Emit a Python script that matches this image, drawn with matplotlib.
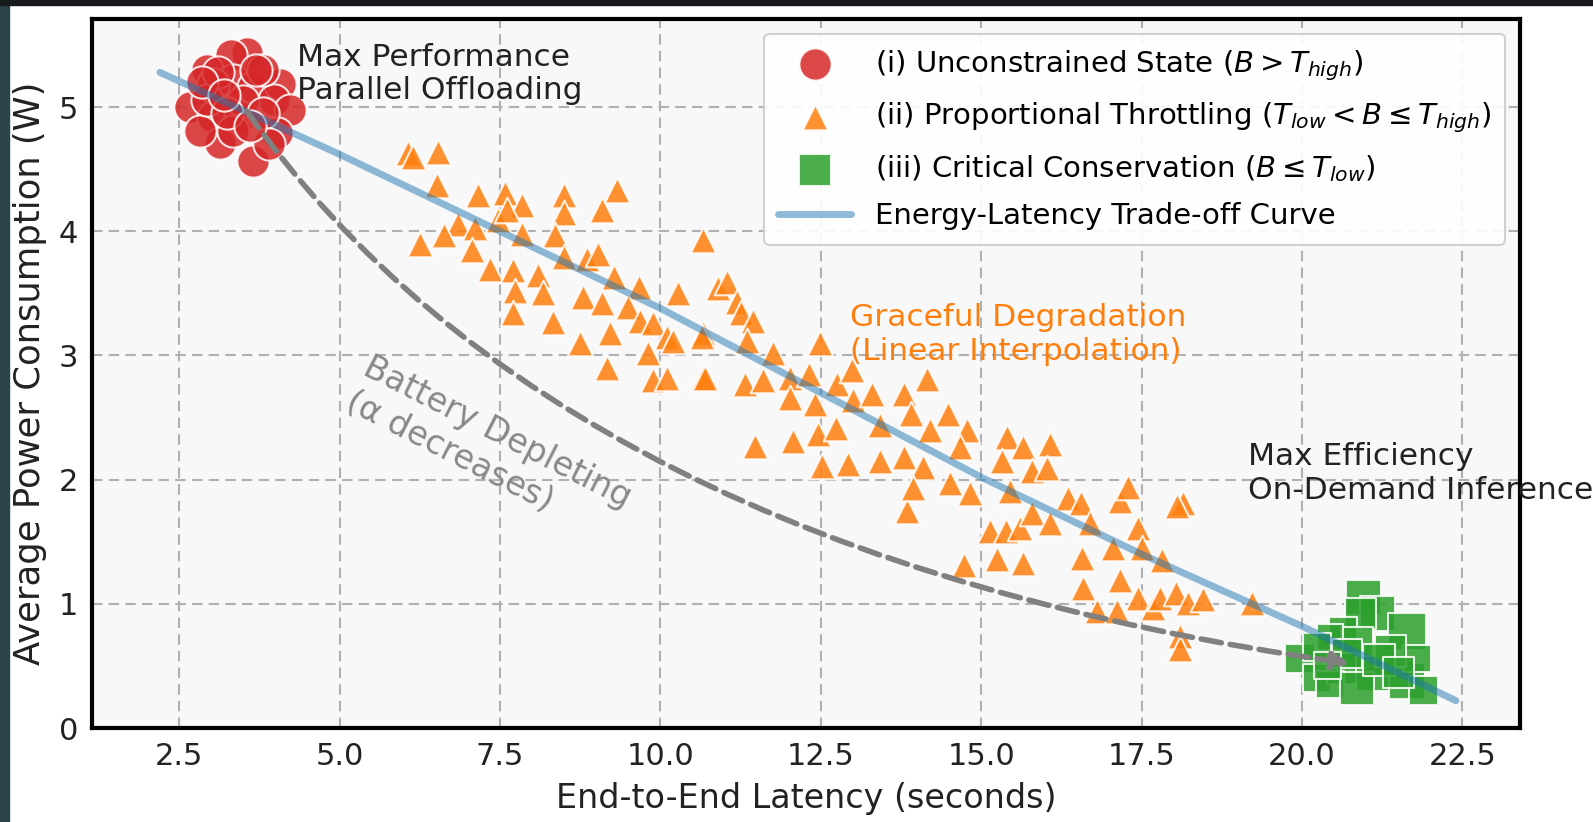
import matplotlib
matplotlib.use("Agg")
import matplotlib.pyplot as plt
from matplotlib.patches import Rectangle

plt.rcParams['font.family'] = ['DejaVu Sans']
plt.rcParams['mathtext.fontset'] = 'dejavusans'

# ---------------- data ----------------
red_x = [3.56, 3.30, 2.94, 3.34, 3.65, 4.07, 3.03, 2.67, 3.03, 3.45, 3.97, 4.23,
         4.03, 3.14, 3.65, 3.34, 2.83, 3.81, 2.94, 3.10, 3.50, 3.80, 3.90, 2.85,
         3.25, 3.60, 3.20, 3.70]
red_y = [5.44, 5.42, 5.30, 5.22, 5.16, 5.19, 5.19, 5.00, 4.92, 4.92, 5.06, 4.98,
         4.79, 4.71, 4.57, 4.81, 4.81, 5.30, 5.06, 5.28, 5.05, 4.95, 4.70, 5.20,
         4.95, 4.85, 5.10, 5.30]

orange_x = [6.07, 6.15, 6.54, 6.52, 7.15, 7.58, 7.85, 8.49, 8.50, 9.33, 9.09, 6.85,
            7.11, 7.47, 7.61, 6.26, 6.62, 7.07, 7.35, 7.85, 7.71, 7.74, 7.71, 8.10,
            8.17, 8.33, 8.36, 8.49, 8.86, 9.03, 8.80, 9.09, 9.27, 9.66, 9.50, 8.75,
            9.22, 9.69, 9.89, 10.11, 9.80, 9.17, 9.89, 10.11, 10.28, 10.67, 10.20, 10.67,
            10.67, 10.90, 11.04, 11.20, 11.25, 11.45, 10.65, 10.70, 11.35, 11.76, 12.49, 11.32,
            11.60, 12.02, 12.02, 12.31, 12.41, 12.76, 12.99, 13.00, 11.48, 12.06, 12.45, 12.73,
            12.52, 12.93, 13.30, 13.43, 13.43, 13.79, 13.90, 14.16, 13.79, 14.10, 14.21, 14.49,
            14.78, 14.67, 14.52, 14.83, 13.85, 13.94, 15.41, 15.33, 15.14, 15.38, 15.66, 15.80,
            16.08, 16.03, 15.45, 15.61, 15.25, 15.66, 15.80, 16.08, 16.36, 16.55, 16.70, 16.58,
            16.59, 16.81, 17.12, 17.06, 17.17, 17.17, 17.29, 17.45, 17.51, 17.45, 17.68, 17.82,
            17.79, 18.03, 18.23, 18.15, 18.06, 18.46, 18.10, 18.10, 19.23, 14.74]
orange_y = [4.63, 4.60, 4.64, 4.37, 4.29, 4.31, 4.21, 4.29, 4.15, 4.33, 4.17, 4.06,
            4.03, 4.09, 4.17, 3.90, 3.97, 3.85, 3.70, 3.98, 3.69, 3.52, 3.34, 3.65,
            3.50, 3.27, 3.97, 3.79, 3.78, 3.82, 3.47, 3.42, 3.63, 3.55, 3.39, 3.10,
            3.18, 3.28, 3.26, 3.15, 3.02, 2.90, 2.80, 2.82, 3.50, 3.93, 3.12, 3.18,
            2.82, 3.54, 3.59, 3.43, 3.34, 3.28, 3.15, 2.82, 3.12, 3.02, 3.10, 2.77,
            2.80, 2.82, 2.66, 2.85, 2.61, 2.77, 2.88, 2.64, 2.27, 2.31, 2.37, 2.42,
            2.11, 2.13, 2.69, 2.44, 2.15, 2.69, 2.53, 2.81, 2.18, 2.10, 2.40, 2.53,
            2.40, 2.26, 1.97, 1.89, 1.75, 1.93, 2.34, 2.15, 1.59, 1.59, 2.26, 2.07,
            2.29, 2.09, 1.91, 1.61, 1.36, 1.33, 1.73, 1.65, 1.85, 1.81, 1.65, 1.37,
            1.13, 0.94, 0.94, 1.45, 1.19, 1.83, 1.94, 1.61, 1.45, 1.05, 0.97, 1.35,
            1.05, 1.09, 1.01, 1.81, 1.79, 1.04, 0.74, 0.64, 1.01, 1.31]

green_x = [20.96, 21.18, 20.91, 21.64, 20.64, 20.86, 20.44, 19.97, 20.24, 20.24,
           20.64, 21.11, 21.64, 21.80, 21.38, 20.44, 20.86, 21.89, 21.20, 20.70,
           21.50, 20.40]
green_y = [1.05, 0.92, 0.92, 0.78, 0.78, 0.68, 0.73, 0.56, 0.65, 0.40,
           0.48, 0.44, 0.38, 0.56, 0.62, 0.35, 0.32, 0.30, 0.55, 0.60,
           0.45, 0.50]
green_s = [620, 650, 500, 720, 400, 560, 350, 440, 400, 400,
           520, 620, 680, 400, 520, 400, 580, 440, 520, 460,
           500, 380]

curve_x = [2.2, 5.0, 7.5, 10.0, 12.5, 15.0, 17.5, 20.0, 22.4]
curve_y = [5.28, 4.62, 4.00, 3.38, 2.70, 2.02, 1.40, 0.82, 0.22]

x_ticks = [2.5, 5.0, 7.5, 10.0, 12.5, 15.0, 17.5, 20.0, 22.5]
y_ticks = [0, 1, 2, 3, 4, 5]

arrow_start = (3.55, 4.97)
arrow_end = (20.75, 0.52)

labels = [r'(i) Unconstrained State ($B > T_{high}$)',
          r'(ii) Proportional Throttling ($T_{low} < B \leq T_{high}$)',
          r'(iii) Critical Conservation ($B \leq T_{low}$)',
          'Energy-Latency Trade-off Curve']

# ---------------- figure ----------------
fig = plt.figure(figsize=(15.93, 8.22), dpi=100)
fig.patch.set_facecolor('white')
fig.patches.append(Rectangle((0, 0), 9 / 1593, 1, transform=fig.transFigure,
                             color='#2a4449', zorder=-10))
fig.patches.append(Rectangle((0, 1 - 5 / 822), 1, 5 / 822, transform=fig.transFigure,
                             color='#17191c', zorder=-10))

ax = fig.add_axes([92 / 1593, (822 - 728) / 822, (1520 - 92) / 1593, (728 - 19) / 822])
ax.set_facecolor('#f8f8f8')

ax.scatter(red_x, red_y, s=540, marker='o', color='#d62728', alpha=0.85,
           edgecolors='white', linewidths=1.5, zorder=3, label=labels[0])
ax.scatter(orange_x, orange_y, s=340, marker='^', color='#ff7f0e', alpha=0.85,
           edgecolors='white', linewidths=1.5, zorder=3, label=labels[1])
ax.scatter(green_x, green_y, s=green_s, marker='s', color='#2ca02c', alpha=0.85,
           edgecolors='white', linewidths=1.5, zorder=3, label=labels[2])
ax.plot(curve_x, curve_y, color='#1f77b4', alpha=0.5, lw=5, zorder=4,
        solid_capstyle='round', label=labels[3])

ax.annotate('', xy=arrow_end, xytext=arrow_start,
            arrowprops=dict(arrowstyle='-|>',
                            connectionstyle='angle3,angleA=-55,angleB=-8',
                            linestyle='--', lw=4, color='#808080',
                            mutation_scale=25, shrinkA=0, shrinkB=0),
            zorder=5)

ax.text(4.33, 5.52, 'Max Performance\nParallel Offloading', fontsize=22.5,
        color='#222222', ha='left', va='top', zorder=6)
ax.text(12.96, 3.42, 'Graceful Degradation\n(Linear Interpolation)', fontsize=22.5,
        color='#ff7f0e', ha='left', va='top', zorder=6)
ax.text(19.16, 2.30, 'Max Efficiency\nOn-Demand Inference', fontsize=22.5,
        color='#222222', ha='left', va='top', zorder=6)
ax.text(7.32, 2.24, 'Battery Depleting\n(α decreases)', fontsize=24,
        color='#888888', ha='center', va='center', rotation=-27,
        rotation_mode='anchor', multialignment='left', zorder=6)

ax.set_xlim(1.14, 23.40)
ax.set_ylim(0, 5.71)
ax.set_xticks(x_ticks)
ax.set_xticklabels([f'{t:.1f}' for t in x_ticks])
ax.set_yticks(y_ticks)
ax.tick_params(axis='both', labelsize=22, length=0, pad=10, colors='#222222')
ax.grid(True, color='#b0b0b0', linestyle=(0, (5, 3)), linewidth=1.5, zorder=0)
ax.set_axisbelow(True)
for sp in ax.spines.values():
    sp.set_color('black')
    sp.set_linewidth(3)

ax.set_xlabel('End-to-End Latency (seconds)', fontsize=24, color='#222222', labelpad=8)
ax.set_ylabel('Average Power Consumption (W)', fontsize=25.5, color='#222222', labelpad=8)

leg = ax.legend(loc='upper right', fontsize=21, frameon=True, fancybox=True,
                framealpha=0.9, edgecolor='#cccccc', labelspacing=0.62,
                handlelength=2.5, borderpad=0.5)
leg.get_frame().set_linewidth(1.5)
leg.set_zorder(10)

fig.savefig('out.png', dpi=100, facecolor=fig.get_facecolor())
